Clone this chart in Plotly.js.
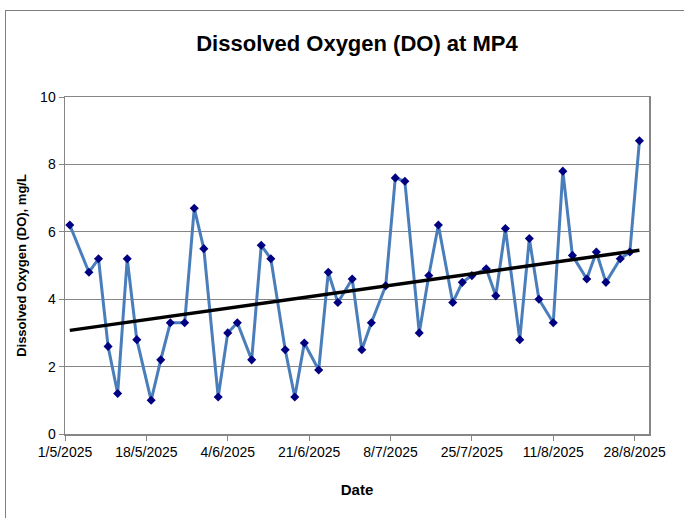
<!DOCTYPE html>
<html>
<head>
<meta charset="utf-8">
<script src="https://cdn.plot.ly/plotly-3.0.1.min.js"></script>
<style>
  html, body { margin: 0; padding: 0; background: #ffffff; }
  #wrap { position: relative; width: 684px; height: 518px; overflow: hidden; }
  #chart { position: absolute; left: 0; top: 0; width: 684px; height: 518px; }
  #frame { position: absolute; left: 5px; top: 10px; width: 700px; height: 540px;
           border-left: 1px solid #7f7f7f; border-top: 1px solid #7f7f7f; pointer-events: none; }
</style>
</head>
<body>
<div id="wrap">
  <div id="chart"></div>
  <div id="frame"></div>
</div>
<script>
// ---- Data ----
const sampleDates = [
  '2025-05-02','2025-05-06','2025-05-08','2025-05-10','2025-05-12','2025-05-14','2025-05-16',
  '2025-05-19','2025-05-21','2025-05-23','2025-05-26','2025-05-28','2025-05-30',
  '2025-06-02','2025-06-04','2025-06-06','2025-06-09','2025-06-11','2025-06-13',
  '2025-06-16','2025-06-18','2025-06-20','2025-06-23','2025-06-25','2025-06-27','2025-06-30',
  '2025-07-02','2025-07-04','2025-07-07','2025-07-09','2025-07-11','2025-07-14','2025-07-16',
  '2025-07-18','2025-07-21','2025-07-23','2025-07-25','2025-07-28','2025-07-30',
  '2025-08-01','2025-08-04','2025-08-06','2025-08-08','2025-08-11','2025-08-13','2025-08-15',
  '2025-08-18','2025-08-20','2025-08-22','2025-08-25','2025-08-27','2025-08-29'
];
const doValues = [
  6.2, 4.8, 5.2, 2.6, 1.2, 5.2, 2.8,
  1.0, 2.2, 3.3, 3.3, 6.7, 5.5,
  1.1, 3.0, 3.3, 2.2, 5.6, 5.2,
  2.5, 1.1, 2.7, 1.9, 4.8, 3.9, 4.6,
  2.5, 3.3, 4.4, 7.6, 7.5, 3.0, 4.7,
  6.2, 3.9, 4.5, 4.7, 4.9, 4.1,
  6.1, 2.8, 5.8, 4.0, 3.3, 7.8, 5.3,
  4.6, 5.4, 4.5, 5.2, 5.4, 8.7
];
const tickDates = ['2025-05-01','2025-05-18','2025-06-04','2025-06-21','2025-07-08','2025-07-25','2025-08-11','2025-08-28'];
const tickLabels = ['1/5/2025','18/5/2025','4/6/2025','21/6/2025','8/7/2025','25/7/2025','11/8/2025','28/8/2025'];
const xRange = ['2025-05-01','2025-08-31'];
const yTicks = [0, 2, 4, 6, 8, 10];

// ---- Linear trendline (least squares on the data) ----
const DAY = 86400000;
const t0 = Date.parse(sampleDates[0] + 'T00:00:00Z');
const xs = sampleDates.map(d => (Date.parse(d + 'T00:00:00Z') - t0) / DAY);
const n = xs.length;
const mx = xs.reduce((a, b) => a + b, 0) / n;
const my = doValues.reduce((a, b) => a + b, 0) / n;
let sxy = 0, sxx = 0;
for (let i = 0; i < n; i++) { sxy += (xs[i] - mx) * (doValues[i] - my); sxx += (xs[i] - mx) ** 2; }
const slope = sxy / sxx;
const intercept = my - slope * mx;
const trendX = [sampleDates[0], sampleDates[n - 1]];
const trendY = [intercept + slope * xs[0], intercept + slope * xs[n - 1]];

const FONT = 'Liberation Sans, Arial, sans-serif';

const traces = [
  {
    type: 'scatter', mode: 'lines+markers',
    x: sampleDates, y: doValues,
    line: { color: '#4a7ebb', width: 3 },
    marker: { symbol: 'diamond', size: 7, color: '#000080' },
    hoverinfo: 'x+y', showlegend: false
  },
  {
    type: 'scatter', mode: 'lines',
    x: trendX, y: trendY,
    line: { color: '#000000', width: 3.5 },
    hoverinfo: 'skip', showlegend: false
  }
];

const layout = {
  width: 684, height: 518,
  margin: { l: 65, r: 35, t: 97, b: 84 },
  paper_bgcolor: '#ffffff', plot_bgcolor: '#ffffff',
  font: { family: FONT, color: '#000000', size: 14 },
  title: {
    text: '<b>Dissolved Oxygen (DO) at MP4</b>',
    font: { family: FONT, size: 22, color: '#000000' },
    x: 0.5, xanchor: 'center', xref: 'paper',
    y: 1 - 43 / 518, yanchor: 'middle', yref: 'container'
  },
  xaxis: {
    type: 'date', range: xRange,
    tickmode: 'array', tickvals: tickDates, ticktext: tickLabels,
    ticks: 'outside', ticklen: 5, tickcolor: '#868686', tickwidth: 1,
    showline: true, linecolor: '#868686', linewidth: 1.5, mirror: true,
    showgrid: false, zeroline: false,
    tickfont: { family: FONT, size: 14, color: '#000000' },
    title: { text: '<b>Date</b>', font: { family: FONT, size: 15, color: '#000000' }, standoff: 25 },
    automargin: false
  },
  yaxis: {
    range: [0, 10], tickmode: 'array', tickvals: yTicks,
    ticks: 'outside', ticklen: 5, tickcolor: '#868686', tickwidth: 1,
    showline: true, linecolor: '#868686', linewidth: 1.5, mirror: true,
    showgrid: true, gridcolor: '#868686', gridwidth: 1,
    zeroline: false,
    tickfont: { family: FONT, size: 14, color: '#000000' },
    title: { text: '<b>Dissolved Oxygen (DO), mg/L</b>', font: { family: FONT, size: 13, color: '#000000' }, standoff: 10 },
    automargin: false
  }
};

Plotly.newPlot('chart', traces, layout, { displayModeBar: false, staticPlot: true });
</script>
</body>
</html>
